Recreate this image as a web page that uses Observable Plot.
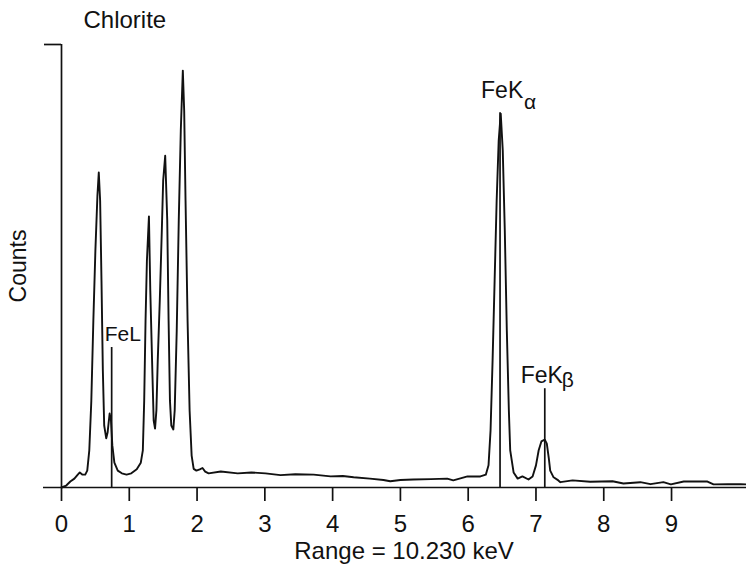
<!DOCTYPE html>
<html><head><meta charset="utf-8">
<script src="https://cdn.jsdelivr.net/npm/d3@7"></script>
<script src="https://cdn.jsdelivr.net/npm/@observablehq/plot@0.6"></script>
<style>
body{margin:0;background:#fff;}
svg{font-family:"Liberation Sans",Arial,Helvetica,sans-serif;}
</style>
</head><body><div id="chart"></div>
<script>
// Spectrum trace (keV, counts in arbitrary units 0-100)
const energy = [0,0.07,0.13,0.19,0.24,0.27,0.31,0.35,0.38,0.41,0.44,0.47,0.50,0.53,0.55,0.57,0.59,0.61,0.63,0.66,0.68,0.71,0.73,0.75,0.78,0.83,0.89,0.96,1.03,1.11,1.17,1.20,1.22,1.24,1.26,1.29,1.31,1.34,1.36,1.38,1.40,1.42,1.45,1.48,1.50,1.53,1.56,1.58,1.60,1.62,1.65,1.67,1.70,1.73,1.76,1.79,1.81,1.83,1.86,1.89,1.92,1.95,1.99,2.04,2.08,2.12,2.17,2.35,2.60,2.80,3.01,3.23,3.45,3.72,3.97,4.15,4.31,4.55,4.75,4.85,5.00,5.19,5.45,5.69,5.78,5.99,6.18,6.26,6.30,6.33,6.36,6.39,6.42,6.45,6.48,6.51,6.54,6.57,6.60,6.62,6.67,6.73,6.80,6.89,6.95,7.00,7.04,7.08,7.13,7.16,7.19,7.21,7.26,7.33,7.36,7.54,7.80,8.13,8.29,8.54,8.69,8.88,8.99,9.18,9.53,9.62,9.83,10.02,10.11];
const counts = [0,0.45,1.35,2.0,2.9,3.4,2.9,2.9,3.8,8.4,19.6,37.7,53.5,65.9,71.1,64.8,46.7,26.4,14.0,11.1,12.4,16.7,15.1,9.5,5.6,3.8,3.2,2.9,3.2,4.1,5.6,8.4,19.6,37.7,51.2,61.2,44.5,26.4,15.1,13.3,17.4,28.7,42.2,58.0,69.3,74.9,60.3,37.7,19.6,14.0,13.1,17.4,35.4,60.3,80.6,94.1,85.1,64.8,37.7,17.4,7.2,4.2,3.8,4.1,4.4,3.6,3.2,3.6,3.2,3.4,3.2,2.8,3.0,2.9,2.5,2.6,2.3,2.0,1.7,1.4,1.7,1.8,1.9,2.0,1.6,2.5,2.5,2.9,5.0,12.9,28.7,46.7,64.8,78.3,84.4,76.1,58.0,35.4,17.4,8.4,3.4,2.0,2.5,1.8,2.5,5.0,8.4,10.4,10.8,9.9,6.5,3.8,2.3,1.6,1.2,1.6,1.3,1.4,0.9,1.2,0.75,1.2,0.7,1.35,1.35,0.7,0.75,0.75,0.7];

// Emission line markers
const lineEnergy = [0.74, 6.47, 7.13];
const lineTop = [31.6, 84.6, 22.3];
const lineMain = ["FeL", "FeK", "FeK"];
const lineSub = ["", "α", "β"];

const xTicks = [0,1,2,3,4,5,6,7,8,9];
const titleText = "Chlorite";
const xLabel = "Range = 10.230 keV";
const yLabel = "Counts";

const spectrum = energy.map((e, i) => ({e, c: counts[i]}));
const lines = lineEnergy.map((e, i) => ({e, top: lineTop[i], main: lineMain[i], sub: lineSub[i]}));

const labelStyle = [
  {main: [-7, -7], sub: [0, 0], size: 21},
  {main: [-19, -15], sub: [24, -4], size: 23},
  {main: [-24, -6], sub: [17, -2], size: 23}
];

const labelMarks = [];
lines.forEach((d, i) => {
  const o = labelStyle[i];
  labelMarks.push(Plot.text([d], {x: "e", y: "top", text: "main", textAnchor: "start", lineAnchor: "bottom",
    dx: o.main[0], dy: o.main[1], fontSize: o.size, fill: "#111"}));
  if (d.sub) labelMarks.push(Plot.text([d], {x: "e", y: "top", text: "sub", textAnchor: "start", lineAnchor: "bottom",
    dx: o.sub[0], dy: o.sub[1], fontSize: 21, fill: "#111"}));
});

const chart = Plot.plot({
  width: 746,
  height: 568,
  marginLeft: 61,
  marginRight: 0,
  marginTop: 44,
  marginBottom: 81,
  style: {color: "#111", background: "#fff"},
  x: {domain: [0, 10.106]},
  y: {domain: [0, 100]},
  marks: [
    Plot.axisX({ticks: xTicks, tickSize: 14, tickPadding: 13, fontSize: 24, tickFormat: d => String(d), label: null, strokeWidth: 1.7}),
    Plot.axisY({ticks: [100], tickSize: 17, tickFormat: () => "", label: null, strokeWidth: 1.7}),
    Plot.ruleY([0], {insetLeft: -18, stroke: "#111", strokeWidth: 1.7}),
    Plot.ruleX([0], {stroke: "#111", strokeWidth: 1.7}),
    Plot.ruleX(lines, {x: "e", y1: 0, y2: "top", stroke: "#111", strokeWidth: 1.7}),
    Plot.line(spectrum, {x: "e", y: "c", stroke: "#111", strokeWidth: 1.9, strokeLinejoin: "round"}),
    ...labelMarks,
    Plot.text([titleText], {frameAnchor: "top-left", text: d => d, textAnchor: "start", lineAnchor: "bottom", dx: 22, dy: -17, fontSize: 24, fill: "#111"}),
    Plot.text([xLabel], {frameAnchor: "bottom", text: d => d, textAnchor: "middle", lineAnchor: "bottom", dy: 71, fontSize: 24, fill: "#111"}),
    Plot.text([yLabel], {frameAnchor: "left", text: d => d, rotate: -90, textAnchor: "middle", lineAnchor: "middle", dx: -43, fontSize: 23, fill: "#111"})
  ]
});
document.getElementById("chart").appendChild(chart);
</script>
</body></html>
